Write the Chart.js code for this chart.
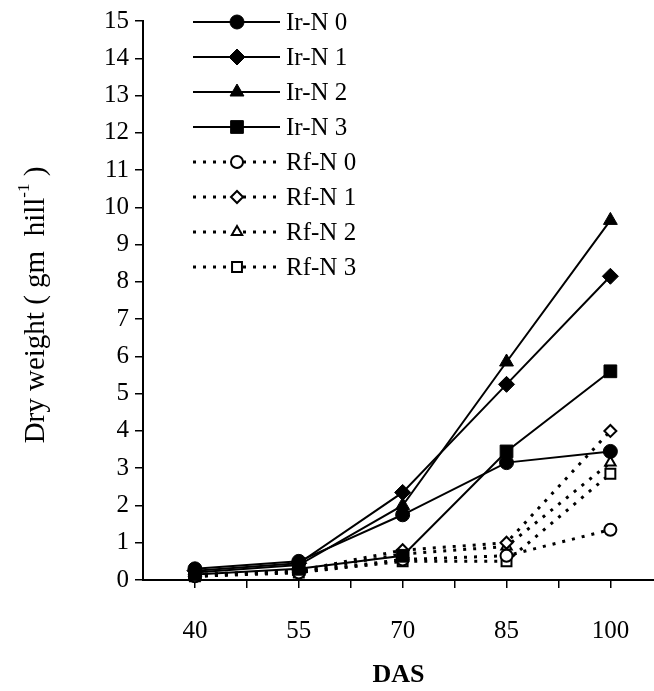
<!DOCTYPE html>
<html>
<head>
<meta charset="utf-8">
<script src="https://cdn.jsdelivr.net/npm/chart.js@4"></script>
<style>
  body { margin: 0; background: #fff; }
  #wrap { width: 654px; height: 691px; }
</style>
</head>
<body>
<div id="wrap"><canvas id="chart" width="654" height="691"></canvas></div>
<script>
const days = [40, 55, 70, 85, 100];
const seriesNames = ["Ir-N 0", "Ir-N 1", "Ir-N 2", "Ir-N 3", "Rf-N 0", "Rf-N 1", "Rf-N 2", "Rf-N 3"];
const irN0 = [0.3, 0.5, 1.75, 3.15, 3.45];
const irN1 = [0.25, 0.45, 2.35, 5.25, 8.15];
const irN2 = [0.2, 0.4, 2.0, 5.85, 9.65];
const irN3 = [0.15, 0.3, 0.65, 3.45, 5.6];
const rfN0 = [0.1, 0.2, 0.55, 0.65, 1.35];
const rfN1 = [0.15, 0.25, 0.8, 1.0, 4.0];
const rfN2 = [0.12, 0.22, 0.7, 0.9, 3.15];
const rfN3 = [0.1, 0.2, 0.5, 0.5, 2.85];
const xTicks = [40, 47.5, 55, 62.5, 70, 77.5, 85, 92.5, 100];

const FONT = "'Liberation Serif', 'Times New Roman', serif";
const values = [irN0, irN1, irN2, irN3, rfN0, rfN1, rfN2, rfN3];
const shapes = ["circle", "rectRot", "triangle", "rect", "circle", "rectRot", "triangle", "rect"];
const radii = [7, 8, 8, 9, 6, 6, 6, 7];

const datasets = values.map((vals, i) => {
  const dotted = i >= 4;
  return {
    label: seriesNames[i],
    data: vals.map((v, j) => ({ x: days[j], y: v })),
    borderColor: "#000",
    borderWidth: dotted ? 3 : 2,
    borderDash: dotted ? [3, 7] : [],
    pointStyle: shapes[i],
    pointRadius: radii[i],
    pointBorderWidth: dotted ? 2 : 1,
    pointBackgroundColor: dotted ? "#fff" : "#000",
    pointBorderColor: "#000",
    tension: 0,
    fill: false,
    clip: false
  };
});

// legend drawn by hand: line sample with marker in the middle, like the original
const legendPlugin = {
  id: "lineLegend",
  afterDraw(chart) {
    const ctx = chart.ctx;
    chart.data.datasets.forEach((ds, i) => {
      const y = 22 + i * 35;
      ctx.save();
      ctx.strokeStyle = "#000";
      ctx.lineWidth = ds.borderWidth;
      ctx.setLineDash(ds.borderDash);
      ctx.beginPath();
      ctx.moveTo(193, y);
      ctx.lineTo(280, y);
      ctx.stroke();
      ctx.setLineDash([]);
      ctx.fillStyle = ds.pointBackgroundColor;
      ctx.strokeStyle = "#000";
      ctx.lineWidth = ds.pointBorderWidth;
      Chart.helpers.drawPoint(ctx, { pointStyle: ds.pointStyle, radius: ds.pointRadius, rotation: 0, borderWidth: ds.pointBorderWidth }, 237, y);
      ctx.fillStyle = "#000";
      ctx.font = "25px " + FONT;
      ctx.textBaseline = "middle";
      ctx.fillText(ds.label, 286, y + 1);
      ctx.restore();
    });
  }
};

// y axis title with superscript
const yTitlePlugin = {
  id: "yTitle",
  afterDraw(chart) {
    const ctx = chart.ctx;
    const main = "Dry weight ( gm  hill";
    const sup = "-1";
    const tail = " )";
    ctx.save();
    ctx.font = "29px " + FONT;
    const w1 = ctx.measureText(main).width;
    const w3 = ctx.measureText(tail).width;
    ctx.font = "17px " + FONT;
    const w2 = ctx.measureText(sup).width;
    const total = w1 + w2 + w3;
    ctx.translate(36, 305);
    ctx.rotate(-Math.PI / 2);
    ctx.fillStyle = "#000";
    ctx.textBaseline = "middle";
    let x = -total / 2;
    ctx.font = "29px " + FONT;
    ctx.fillText(main, x, 0);
    x += w1;
    ctx.font = "17px " + FONT;
    ctx.fillText(sup, x, -11);
    x += w2;
    ctx.font = "29px " + FONT;
    ctx.fillText(tail, x, 0);
    ctx.restore();
  }
};

new Chart(document.getElementById("chart"), {
  type: "line",
  data: { datasets },
  plugins: [legendPlugin, yTitlePlugin],
  options: {
    responsive: false,
    animation: false,
    layout: { autoPadding: false, padding: { top: 20, right: 0, bottom: 0, left: 0 } },
    plugins: { legend: { display: false }, tooltip: { enabled: false } },
    scales: {
      x: {
        type: "linear",
        min: 32.5,
        max: 106.3,
        afterBuildTicks(scale) {
          scale.ticks = xTicks.map(v => ({ value: v }));
        },
        afterFit(scale) {
          scale.height = 111;
          scale.paddingRight = 0;
          scale.paddingLeft = 0;
        },
        border: { color: "#000", width: 2 },
        grid: { drawOnChartArea: false, color: "#000", tickLength: 8, lineWidth: 1.5 },
        ticks: {
          color: "#000",
          font: { family: FONT, size: 25 },
          padding: 28,
          maxRotation: 0,
          autoSkip: false,
          callback: v => (days.includes(v) ? String(v) : "")
        },
        title: {
          display: true,
          text: "DAS",
          color: "#000",
          font: { family: FONT, size: 26, weight: "bold" },
          padding: { top: 0, bottom: 0 }
        }
      },
      y: {
        min: 0,
        max: 15,
        afterFit(scale) { scale.width = 143; },
        border: { color: "#000", width: 2 },
        grid: { drawOnChartArea: false, color: "#000", tickLength: 8, lineWidth: 1.5 },
        ticks: {
          stepSize: 1,
          color: "#000",
          font: { family: FONT, size: 25 },
          padding: 6
        }
      }
    }
  }
});
</script>
</body>
</html>
